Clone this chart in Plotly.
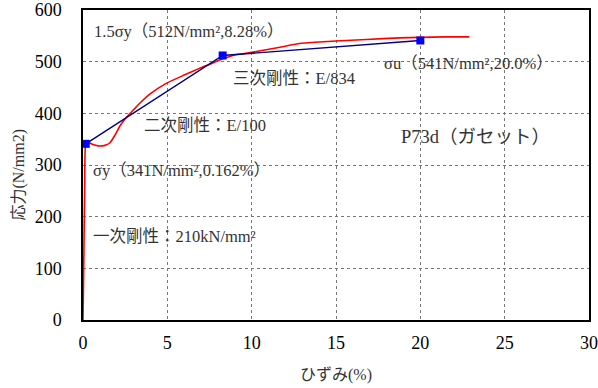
import plotly.graph_objects as go

# Measured stress-strain curve (strain %, stress N/mm2)
strain = [0.0, 0.05, 0.10, 0.16, 0.30, 0.55, 0.90, 1.30, 1.60, 1.90, 2.20, 2.56, 3.00, 3.35,
          4.00, 4.93, 6.00, 6.90, 7.60, 8.10, 8.88, 10.0, 10.86, 12.0, 12.83, 14.0, 15.0,
          16.8, 18.76, 20.0, 21.5, 22.9]
stress = [0.0, 120.0, 260.0, 341.0, 344.0, 340.0, 337.0, 338.0, 343.0, 358.0, 376.0, 392.0, 407.0, 419.0,
          438.0, 458.0, 474.0, 487.0, 496.0, 503.0, 512.0, 518.0, 523.0, 530.0, 535.0, 538.0, 540.0,
          543.0, 546.0, 547.0, 548.0, 548.0]

# Tri-linear model: yield, 1.5 sigma-y, ultimate
model_strain = [0.162, 8.28, 20.0]
model_stress = [341, 512, 541]

x_ticks = [0, 5, 10, 15, 20, 25, 30]
y_ticks = [0, 100, 200, 300, 400, 500, 600]

serif = "Liberation Serif, Noto Sans CJK JP"
tick_family = "Times New Roman, Liberation Serif, serif"

fig = go.Figure()
fig.add_trace(go.Scatter(x=strain, y=stress, mode="lines",
                         line=dict(color="#ff0000", width=1.6, shape="spline", smoothing=0.4),
                         showlegend=False))
fig.add_trace(go.Scatter(x=model_strain, y=model_stress, mode="lines+markers",
                         line=dict(color="#000080", width=1.4),
                         marker=dict(symbol="square", size=8, color="#0000ff"),
                         showlegend=False))

labels = [
    ("1.5σy（512N/mm²,8.28%）", 0.56, 559, 16.5),
    ("三次剛性：E/834", 8.8, 468, 16.5),
    ("σu（541N/mm²,20.0%）", 17.75, 497, 16.5),
    ("二次剛性：E/100", 3.47, 377, 16.5),
    ("P73d（ガセット）", 18.76, 354, 18.5),
    ("σy（341N/mm²,0.162%）", 0.5, 290, 16.5),
    ("一次剛性：210kN/mm²", 0.5, 162, 16.5),
]
for text, x, y, size in labels:
    fig.add_annotation(x=x, y=y, text=text, showarrow=False, xanchor="left", yanchor="middle",
                       font=dict(family=serif, size=size, color="#333333"))

# Axis titles
fig.add_annotation(text="ひずみ(%)", xref="paper", yref="paper", x=0.5, y=-0.177,
                   xanchor="center", yanchor="middle", showarrow=False,
                   font=dict(family=serif, size=16, color="#333333"))
fig.add_annotation(text="応力(N/mm2)", xref="paper", yref="paper", x=-0.126, y=0.47,
                   xanchor="center", yanchor="middle", showarrow=False, textangle=-90,
                   font=dict(family=serif, size=16, color="#333333"))

axis_common = dict(showline=True, mirror=True, linecolor="#000000", linewidth=1.5,
                   showgrid=True, gridcolor="#777777", griddash="dot", gridwidth=1,
                   zeroline=False, ticks="", automargin=False,
                   tickfont=dict(family=tick_family, size=18, color="#000000"))

fig.update_xaxes(range=[0, 30], tickvals=x_ticks, ticklabelstandoff=6, **axis_common)
fig.update_yaxes(range=[0, 600], tickvals=y_ticks, ticklabelstandoff=16, **axis_common)

fig.update_layout(width=598, height=388, margin=dict(l=83, r=9, t=10, b=68),
                  plot_bgcolor="#ffffff", paper_bgcolor="#ffffff")

fig.write_html("out.html")
